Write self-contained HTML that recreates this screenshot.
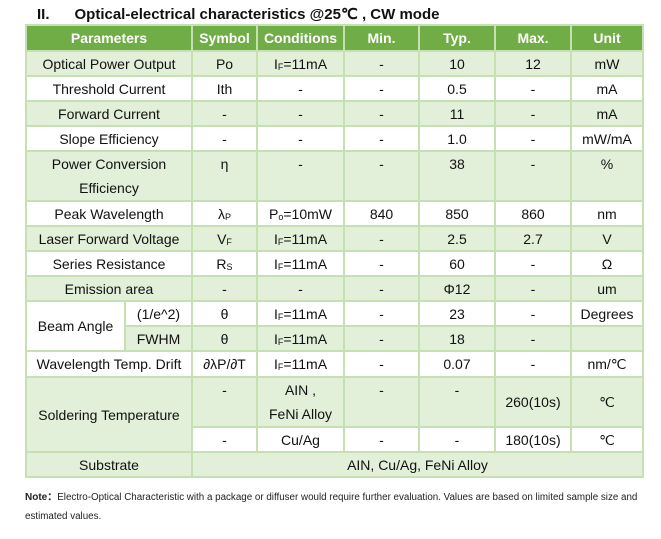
<!DOCTYPE html>
<html><head><meta charset="utf-8"><style>
body{margin:0;width:661px;height:539px;background:#fff;font-family:"Liberation Sans",Arial,sans-serif;color:#111;position:relative;overflow:hidden}
.t{position:absolute;left:37px;top:5px;font-size:15px;font-weight:bold}
table{position:absolute;left:25px;top:24px;border-collapse:collapse;table-layout:fixed;width:617px;font-size:14px}
td{border:2px solid #c6e0b4;text-align:center;padding:0;vertical-align:middle;line-height:16px;white-space:nowrap;overflow:hidden}
tr.h td{background:#70ad47;color:#fff;font-weight:bold}
.g td,td.g{background:#e2efd9}
.w td,td.w{background:#fff}
.top{vertical-align:top;padding-top:4px}
.two{line-height:24px}
sub{font-size:9px;vertical-align:baseline;position:relative;top:1px;line-height:0}
.n{position:absolute;left:25px;font-size:9.8px;color:#222}
</style></head><body>
<div class="t">II.&nbsp;&nbsp;&nbsp;&nbsp;&nbsp;&nbsp;Optical-electrical characteristics @25℃ , CW mode</div>
<table>
<colgroup><col style="width:99px"><col style="width:67px"><col style="width:65px"><col style="width:87px"><col style="width:75px"><col style="width:76px"><col style="width:76px"><col style="width:72px"></colgroup>
<tr class="h" style="height:26px"><td colspan="2">Parameters</td><td>Symbol</td><td>Conditions</td><td>Min.</td><td>Typ.</td><td>Max.</td><td>Unit</td></tr>
<tr class="g" style="height:25px"><td colspan="2">Optical Power Output</td><td>Po</td><td>I<sub>F</sub>=11mA</td><td>-</td><td>10</td><td>12</td><td>mW</td></tr>
<tr class="w" style="height:25px"><td colspan="2">Threshold Current</td><td>Ith</td><td>-</td><td>-</td><td>0.5</td><td>-</td><td>mA</td></tr>
<tr class="g" style="height:25px"><td colspan="2">Forward Current</td><td>-</td><td>-</td><td>-</td><td>11</td><td>-</td><td>mA</td></tr>
<tr class="w" style="height:25px"><td colspan="2">Slope Efficiency</td><td>-</td><td>-</td><td>-</td><td>1.0</td><td>-</td><td>mW/mA</td></tr>
<tr class="g" style="height:50px"><td colspan="2" class="two">Power Conversion<br>Efficiency</td><td class="top">η</td><td class="top">-</td><td class="top">-</td><td class="top">38</td><td class="top">-</td><td class="top">%</td></tr>
<tr class="w" style="height:25px"><td colspan="2">Peak Wavelength</td><td>λ<sub>P</sub></td><td>P<sub>o</sub>=10mW</td><td>840</td><td>850</td><td>860</td><td>nm</td></tr>
<tr class="g" style="height:25px"><td colspan="2">Laser Forward Voltage</td><td>V<sub>F</sub></td><td>I<sub>F</sub>=11mA</td><td>-</td><td>2.5</td><td>2.7</td><td>V</td></tr>
<tr class="w" style="height:25px"><td colspan="2">Series Resistance</td><td>R<sub>S</sub></td><td>I<sub>F</sub>=11mA</td><td>-</td><td>60</td><td>-</td><td>Ω</td></tr>
<tr class="g" style="height:25px"><td colspan="2">Emission area</td><td>-</td><td>-</td><td>-</td><td>Φ12</td><td>-</td><td>um</td></tr>
<tr class="w" style="height:25px"><td rowspan="2" class="w">Beam Angle</td><td>(1/e^2)</td><td>θ</td><td>I<sub>F</sub>=11mA</td><td>-</td><td>23</td><td>-</td><td>Degrees</td></tr>
<tr class="g" style="height:25px"><td>FWHM</td><td>θ</td><td>I<sub>F</sub>=11mA</td><td>-</td><td>18</td><td>-</td><td></td></tr>
<tr class="w" style="height:26px"><td colspan="2">Wavelength Temp. Drift</td><td>∂λP/∂T</td><td>I<sub>F</sub>=11mA</td><td>-</td><td>0.07</td><td>-</td><td>nm/℃</td></tr>
<tr class="g" style="height:49px"><td colspan="2" rowspan="2" class="g">Soldering Temperature</td><td class="top">-</td><td class="two">AIN ,<br>FeNi Alloy</td><td class="top">-</td><td class="top">-</td><td>260(10s)</td><td>℃</td></tr>
<tr class="w" style="height:25px"><td>-</td><td>Cu/Ag</td><td>-</td><td>-</td><td>180(10s)</td><td>℃</td></tr>
<tr class="g" style="height:25px"><td colspan="2">Substrate</td><td colspan="6">AIN, Cu/Ag, FeNi Alloy</td></tr>
</table>
<div class="n" style="top:488px"><b style="font-size:10px">Note：</b>Electro-Optical Characteristic with a package or diffuser would require further evaluation. Values are based on limited sample size and</div>
<div class="n" style="top:511px">estimated values.</div>
</body></html>
